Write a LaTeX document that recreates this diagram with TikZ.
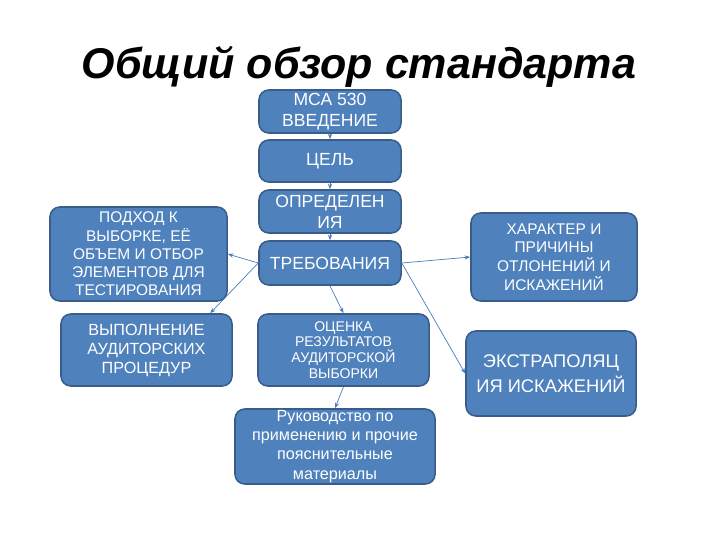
\documentclass[tikz,border=0pt]{standalone}
\usepackage{fontspec}
\setmainfont{Liberation Sans}
\usepackage{tikz}
\usetikzlibrary{arrows.meta}
\definecolor{boxfill}{HTML}{4F81BD}
\definecolor{boxline}{HTML}{385D8A}
\definecolor{linkcol}{HTML}{4A7EBB}

\begin{document}
\begin{tikzpicture}[x=0.025cm, y=-0.025cm,
    block/.style={draw=boxline, line width=1.1pt, fill=boxfill, rounded corners=7pt,
        text=white, align=center, inner sep=0pt, font=\fontsize{12.5}{15}\selectfont},
    link/.style={draw=linkcol, line width=0.5pt, -{Stealth[length=4pt,width=3pt]}}]
    \useasboundingbox (0,0) rectangle (720,540);
    \node (title) at (359,67) {\fontsize{30.6}{34}\selectfont\bfseries\itshape Общий обзор стандарта};
    % central column
    \node[block, minimum width=3.55cm, minimum height=1.075cm] (intro) at (330,111.5) {МСА 530\\ВВЕДЕНИЕ};
    \node[block, minimum width=3.55cm, minimum height=1.05cm] (goal) at (330,161) {ЦЕЛЬ};
    \node[block, minimum width=3.55cm, minimum height=1.075cm] (defs) at (330,211.5) {ОПРЕДЕЛЕН\\ИЯ};
    \node[block, minimum width=3.55cm, minimum height=1.1cm] (req) at (330,263) {ТРЕБОВАНИЯ};
    % left side
    \node[block, minimum width=4.425cm, minimum height=2.35cm, font=\fontsize{11}{13}\selectfont] (approach) at (138.5,254)
        {ПОДХОД К\\ВЫБОРКЕ, ЕЁ\\ОБЪЕМ И ОТБОР\\ЭЛЕМЕНТОВ ДЛЯ\\ТЕСТИРОВАНИЯ};
    \node[block, minimum width=4.275cm, minimum height=1.8cm, font=\fontsize{11.5}{13.5}\selectfont] (perform) at (146.5,350)
        {ВЫПОЛНЕНИЕ\\АУДИТОРСКИХ\\ПРОЦЕДУР};
    % lower middle
    \node[block, minimum width=4.275cm, minimum height=1.8cm, font=\fontsize{10}{11.3}\selectfont] (eval) at (343.5,350)
        {ОЦЕНКА\\РЕЗУЛЬТАТОВ\\АУДИТОРСКОЙ\\ВЫБОРКИ};
    \node[block, minimum width=5cm, minimum height=1.875cm, font=\fontsize{11.5}{13.6}\selectfont] (guide) at (335,446.5)
        {Руководство по\\применению и прочие\\пояснительные\\материалы};
    % right side
    \node[block, minimum width=4.15cm, minimum height=2.2cm, font=\fontsize{11}{13.3}\selectfont] (nature) at (554,257)
        {ХАРАКТЕР И\\ПРИЧИНЫ\\ОТЛОНЕНИЙ И\\ИСКАЖЕНИЙ};
    \node[block, minimum width=4.25cm, minimum height=2.125cm, font=\fontsize{13}{18}\selectfont] (extrap) at (551,373.5)
        {ЭКСТРАПОЛЯЦ\\ИЯ ИСКАЖЕНИЙ};

    \draw[link] (intro) -- (goal);
    \draw[link] (goal) -- (defs);
    \draw[link] (defs) -- (req);
    \draw[link] (req.west) -- (approach.east);
    \draw[link] (req.west) -- (perform.30);
    \draw[link] (req.east) -- (nature.west);
    \draw[link] (req.east) -- (extrap.west);
    \draw[link] (req.south) -- (eval.north);
    \draw[link] (eval.south) -- (guide.north);
\end{tikzpicture}
\end{document}
